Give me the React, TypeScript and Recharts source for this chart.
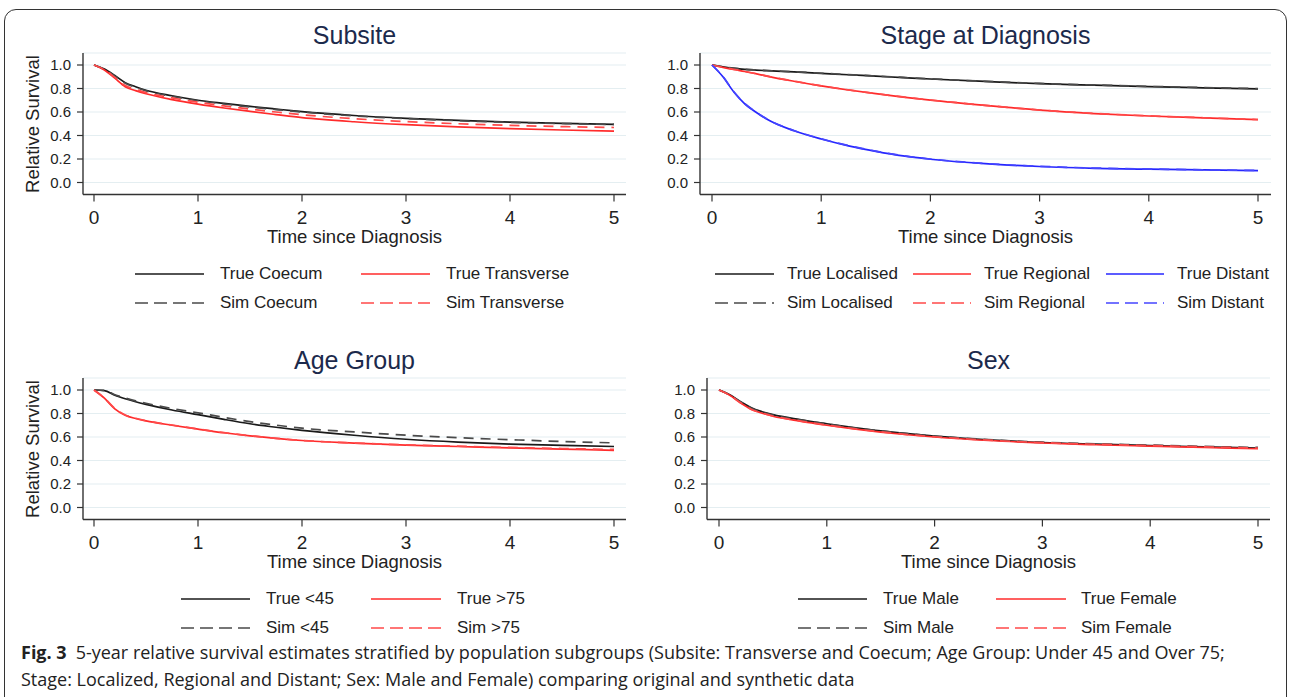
import { LineChart, Line, XAxis, YAxis, CartesianGrid } from 'recharts';

const TIME = [0, 0.1, 0.2, 0.3, 0.4, 0.5, 0.75, 1, 1.25, 1.5, 1.75, 2, 2.5, 3, 3.5, 4, 4.5, 5];
const X_TICKS = [0, 1, 2, 3, 4, 5];
const Y_TICKS = [0, 0.2, 0.4, 0.6, 0.8, 1];

// Subsite
const TRUE_COECUM = [1, 0.965, 0.91, 0.85, 0.815, 0.785, 0.738, 0.7, 0.673, 0.648, 0.625, 0.603, 0.57, 0.546, 0.528, 0.514, 0.504, 0.495];
const SIM_COECUM = [1, 0.963, 0.905, 0.845, 0.81, 0.78, 0.733, 0.696, 0.668, 0.643, 0.621, 0.6, 0.567, 0.544, 0.526, 0.512, 0.502, 0.494];
const TRUE_TRANSVERSE = [1, 0.958, 0.888, 0.815, 0.782, 0.755, 0.706, 0.667, 0.634, 0.605, 0.578, 0.552, 0.517, 0.492, 0.473, 0.458, 0.447, 0.438];
const SIM_TRANSVERSE = [1, 0.96, 0.895, 0.825, 0.792, 0.765, 0.72, 0.683, 0.652, 0.625, 0.6, 0.577, 0.543, 0.518, 0.5, 0.486, 0.476, 0.468];

// Stage at diagnosis
const TRUE_LOCALISED = [1, 0.985, 0.972, 0.963, 0.957, 0.952, 0.941, 0.929, 0.917, 0.905, 0.893, 0.881, 0.86, 0.841, 0.828, 0.816, 0.806, 0.796];
const SIM_LOCALISED = [1, 0.986, 0.973, 0.964, 0.958, 0.953, 0.942, 0.93, 0.918, 0.906, 0.894, 0.882, 0.861, 0.843, 0.83, 0.818, 0.808, 0.799];
const TRUE_REGIONAL = [1, 0.98, 0.962, 0.945, 0.926, 0.906, 0.862, 0.822, 0.787, 0.756, 0.727, 0.701, 0.656, 0.616, 0.587, 0.566, 0.55, 0.535];
const SIM_REGIONAL = [1, 0.981, 0.963, 0.946, 0.927, 0.907, 0.863, 0.823, 0.788, 0.757, 0.728, 0.702, 0.657, 0.617, 0.588, 0.567, 0.551, 0.536];
const TRUE_DISTANT = [1, 0.9, 0.77, 0.67, 0.6, 0.54, 0.44, 0.37, 0.312, 0.265, 0.226, 0.198, 0.16, 0.136, 0.121, 0.113, 0.107, 0.101];
const SIM_DISTANT = [1, 0.902, 0.772, 0.672, 0.602, 0.542, 0.442, 0.372, 0.314, 0.267, 0.228, 0.2, 0.162, 0.138, 0.123, 0.115, 0.108, 0.102];

// Age group
const TRUE_U45 = [1, 0.995, 0.955, 0.925, 0.9, 0.878, 0.83, 0.79, 0.75, 0.713, 0.683, 0.657, 0.615, 0.581, 0.557, 0.54, 0.529, 0.519];
const SIM_U45 = [1, 0.997, 0.96, 0.932, 0.908, 0.887, 0.843, 0.806, 0.767, 0.731, 0.701, 0.675, 0.643, 0.615, 0.594, 0.577, 0.562, 0.55];
const TRUE_O75 = [1, 0.93, 0.84, 0.785, 0.757, 0.737, 0.7, 0.667, 0.636, 0.61, 0.588, 0.57, 0.548, 0.531, 0.519, 0.507, 0.497, 0.487];
const SIM_O75 = [1, 0.932, 0.843, 0.788, 0.76, 0.739, 0.702, 0.668, 0.637, 0.611, 0.589, 0.571, 0.549, 0.533, 0.522, 0.511, 0.502, 0.494];

// Sex
const TRUE_MALE = [1, 0.96, 0.9, 0.848, 0.815, 0.79, 0.748, 0.713, 0.681, 0.652, 0.628, 0.607, 0.576, 0.553, 0.539, 0.527, 0.516, 0.506];
const SIM_MALE = [1, 0.958, 0.898, 0.845, 0.812, 0.787, 0.745, 0.711, 0.679, 0.651, 0.628, 0.608, 0.578, 0.556, 0.542, 0.531, 0.52, 0.511];
const TRUE_FEMALE = [1, 0.955, 0.89, 0.835, 0.802, 0.777, 0.735, 0.7, 0.669, 0.642, 0.619, 0.6, 0.57, 0.549, 0.534, 0.522, 0.511, 0.5];
const SIM_FEMALE = [1, 0.956, 0.892, 0.837, 0.804, 0.779, 0.737, 0.702, 0.671, 0.644, 0.621, 0.602, 0.573, 0.552, 0.538, 0.527, 0.516, 0.506];

const FONT = '"Liberation Sans", Arial, sans-serif';
const AXIS = '#333';
const BLACK = '#1a1a1a';
const BLACK_DASH = '#4a4a4a';
const RED = '#ff2b2b';
const RED_DASH = '#ff4a4a';
const BLUE = '#2626ff';
const BLUE_DASH = '#4646ff';

interface Series {
  name: string;
  values: number[];
  color: string;
  dashed: boolean;
}

interface LegendCol {
  x1: number;
  x2: number;
  tx: number;
}

interface PanelSpec {
  title: string;
  left: number;
  top: number;
  width: number;
  axisX: number;
  plotRight: number;
  padL: number;
  padR: number;
  yLabel: boolean;
  cols: LegendCol[];
  series: Series[]; // first half = True row, second half = Sim row
}

const YW = 50;
const XH = 48.5;
const CH = 250;
const PLOT_TOP = 53;
const PLOT_BOTTOM = 194.5;

const PANELS: PanelSpec[] = [
  {
    title: 'Subsite', left: 0, top: 0, width: 640, axisX: 83, plotRight: 626, padL: 11, padR: 12, yLabel: true,
    cols: [{ x1: 135, x2: 204, tx: 220 }, { x1: 361, x2: 430, tx: 446 }],
    series: [
      { name: 'True Coecum', values: TRUE_COECUM, color: BLACK, dashed: false },
      { name: 'True Transverse', values: TRUE_TRANSVERSE, color: RED, dashed: false },
      { name: 'Sim Coecum', values: SIM_COECUM, color: BLACK_DASH, dashed: true },
      { name: 'Sim Transverse', values: SIM_TRANSVERSE, color: RED_DASH, dashed: true },
    ],
  },
  {
    title: 'Stage at Diagnosis', left: 640, top: 0, width: 650, axisX: 700, plotRight: 1271, padL: 12, padR: 13, yLabel: false,
    cols: [{ x1: 715, x2: 774, tx: 787 }, { x1: 913, x2: 971, tx: 984 }, { x1: 1106, x2: 1164, tx: 1177 }],
    series: [
      { name: 'True Localised', values: TRUE_LOCALISED, color: BLACK, dashed: false },
      { name: 'True Regional', values: TRUE_REGIONAL, color: RED, dashed: false },
      { name: 'True Distant', values: TRUE_DISTANT, color: BLUE, dashed: false },
      { name: 'Sim Localised', values: SIM_LOCALISED, color: BLACK_DASH, dashed: true },
      { name: 'Sim Regional', values: SIM_REGIONAL, color: RED_DASH, dashed: true },
      { name: 'Sim Distant', values: SIM_DISTANT, color: BLUE_DASH, dashed: true },
    ],
  },
  {
    title: 'Age Group', left: 0, top: 325, width: 640, axisX: 83, plotRight: 626, padL: 11, padR: 12, yLabel: true,
    cols: [{ x1: 181, x2: 250, tx: 266 }, { x1: 371, x2: 441, tx: 457 }],
    series: [
      { name: 'True <45', values: TRUE_U45, color: BLACK, dashed: false },
      { name: 'True >75', values: TRUE_O75, color: RED, dashed: false },
      { name: 'Sim <45', values: SIM_U45, color: BLACK_DASH, dashed: true },
      { name: 'Sim >75', values: SIM_O75, color: RED_DASH, dashed: true },
    ],
  },
  {
    title: 'Sex', left: 640, top: 325, width: 650, axisX: 707, plotRight: 1270, padL: 12, padR: 12, yLabel: false,
    cols: [{ x1: 798, x2: 867, tx: 883 }, { x1: 996, x2: 1066, tx: 1081 }],
    series: [
      { name: 'True Male', values: TRUE_MALE, color: BLACK, dashed: false },
      { name: 'True Female', values: TRUE_FEMALE, color: RED, dashed: false },
      { name: 'Sim Male', values: SIM_MALE, color: BLACK_DASH, dashed: true },
      { name: 'Sim Female', values: SIM_FEMALE, color: RED_DASH, dashed: true },
    ],
  },
];

function Panel({ p }: { p: PanelSpec }) {
  const data = TIME.map((t, i) => {
    const row: Record<string, number> = { t };
    p.series.forEach((s, k) => {
      row['s' + k] = s.values[i];
    });
    return row;
  });
  const half = p.series.length / 2;
  const legendRows = [p.top + 274, p.top + 303];

  return (
    <>
      <div
        style={{
          position: 'absolute',
          left: (p.axisX + p.plotRight) / 2,
          top: p.top + 35,
          transform: 'translate(-50%, -50%)',
          fontFamily: FONT,
          fontSize: 25,
          color: '#1c2a4c',
          whiteSpace: 'nowrap',
        }}
      >
        {p.title}
      </div>
      {p.yLabel && (
        <div
          style={{
            position: 'absolute',
            left: 33,
            top: p.top + 124,
            transform: 'translate(-50%, -50%) rotate(-90deg)',
            fontFamily: FONT,
            fontSize: 18.5,
            color: '#222',
            whiteSpace: 'nowrap',
          }}
        >
          Relative Survival
        </div>
      )}
      <div style={{ position: 'absolute', left: p.left, top: p.top }}>
        <LineChart
          width={p.width}
          height={CH}
          data={data}
          margin={{
            top: PLOT_TOP,
            left: p.axisX - p.left - YW,
            right: p.left + p.width - p.plotRight,
            bottom: CH - PLOT_BOTTOM - XH,
          }}
        >
          <CartesianGrid horizontal vertical={false} stroke="#e4eef1" strokeWidth={1.2} />
          <XAxis
            dataKey="t"
            type="number"
            domain={[0, 5]}
            ticks={X_TICKS}
            padding={{ left: p.padL, right: p.padR }}
            height={XH}
            stroke={AXIS}
            strokeWidth={1.4}
            tickSize={7}
            tickMargin={9}
            tick={{ fontSize: 19, fill: '#222', fontFamily: FONT }}
            tickLine={{ stroke: AXIS, strokeWidth: 1.2 }}
            label={{
              value: 'Time since Diagnosis',
              position: 'insideBottom',
              offset: 0,
              fontSize: 18.5,
              fill: '#222',
              fontFamily: FONT,
            }}
          />
          <YAxis
            type="number"
            domain={[0, 1]}
            ticks={Y_TICKS}
            padding={{ top: 12, bottom: 12 }}
            width={YW}
            stroke={AXIS}
            strokeWidth={1.4}
            tickSize={6}
            tickMargin={6}
            tickFormatter={(v: number) => v.toFixed(1)}
            tick={{ fontSize: 15, fill: '#222', fontFamily: FONT }}
            tickLine={{ stroke: AXIS, strokeWidth: 1.2 }}
          />
          {p.series.map((s, k) => (
            <Line
              key={s.name}
              dataKey={'s' + k}
              name={s.name}
              type="monotone"
              stroke={s.color}
              strokeWidth={1.7}
              strokeDasharray={s.dashed ? '10 7' : undefined}
              dot={false}
              activeDot={false}
              isAnimationActive={false}
            />
          ))}
        </LineChart>
      </div>
      {p.series.map((s, k) => {
        const col = p.cols[k % half];
        const y = legendRows[Math.floor(k / half)];
        return (
          <div key={'lg' + k}>
            <svg
              style={{ position: 'absolute', left: col.x1, top: y - 3 }}
              width={col.x2 - col.x1}
              height={6}
            >
              <line
                x1={0}
                x2={col.x2 - col.x1}
                y1={3}
                y2={3}
                stroke={s.color}
                strokeWidth={1.7}
                strokeDasharray={s.dashed ? '13 6' : undefined}
              />
            </svg>
            <div
              style={{
                position: 'absolute',
                left: col.tx,
                top: y - 11,
                height: 22,
                lineHeight: '22px',
                fontFamily: FONT,
                fontSize: 17,
                color: '#222',
                whiteSpace: 'nowrap',
              }}
            >
              {s.name}
            </div>
          </div>
        );
      })}
    </>
  );
}

export default function App() {
  return (
    <div
      style={{
        position: 'absolute',
        left: 0,
        top: 0,
        width: 1290,
        height: 697,
        overflow: 'hidden',
        background: '#fff',
      }}
    >
      <div
        style={{
          position: 'absolute',
          left: 4,
          top: 9,
          width: 1283,
          height: 700,
          border: '1.3px solid #333',
          borderRadius: 12,
          boxSizing: 'border-box',
        }}
      />
      {PANELS.map((p) => (
        <Panel key={p.title} p={p} />
      ))}
      <div
        style={{
          position: 'absolute',
          left: 21,
          top: 639,
          lineHeight: '27px',
          fontFamily: '"Open Sans", "Noto Sans", sans-serif',
          fontSize: 18,
          color: '#222',
          whiteSpace: 'nowrap',
        }}
      >
        <div>
          <span style={{ fontWeight: 700 }}>Fig. 3</span>
          <span style={{ marginLeft: 9 }}>
            5-year relative survival estimates stratified by population subgroups (Subsite: Transverse and Coecum; Age Group: Under 45 and Over 75;
          </span>
        </div>
        <div>Stage: Localized, Regional and Distant; Sex: Male and Female) comparing original and synthetic data</div>
      </div>
    </div>
  );
}
